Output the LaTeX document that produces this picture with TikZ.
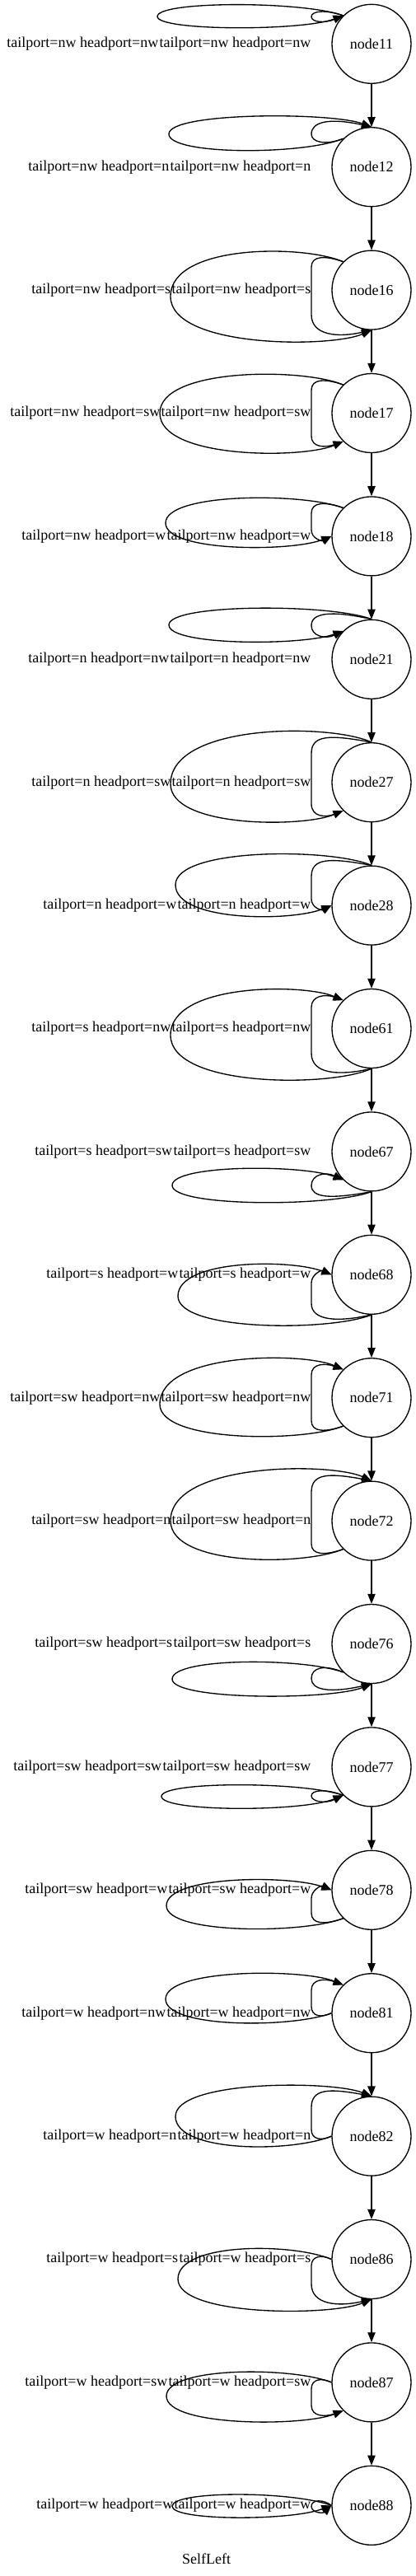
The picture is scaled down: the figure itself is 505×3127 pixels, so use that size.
\documentclass[tikz,border=0pt]{standalone}
\usepackage{fontspec}
\setmainfont{Liberation Serif}
\usetikzlibrary{arrows.meta}

\tikzset{every picture/.style={line width=1pt}}
\tikzset{
	state/.style={circle, draw, minimum size=72pt, inner sep=0pt, font=\fontsize{13.5}{16}\selectfont},
	lbl/.style={inner sep=0pt, anchor=east, font=\fontsize{13.5}{16}\selectfont},
	edge/.style={-{Triangle[length=9pt,width=7pt]}},
	selfloop/.style={-{Triangle[length=9pt,width=7pt]}}}

\begin{document}
\begin{tikzpicture}[x=0.75pt,y=0.75pt,yscale=-1,xscale=1]
		\useasboundingbox (0,0) rectangle (505,3127);

		%Shape: Circle
		\node[state] (n11) at (451,53.3) {node11};
		\node[state] (n12) at (451,202.7) {node12};
		\node[state] (n16) at (451,352.1) {node16};
		\node[state] (n17) at (451,501.5) {node17};
		\node[state] (n18) at (451,650.9) {node18};
		\node[state] (n21) at (451,800.3) {node21};
		\node[state] (n27) at (451,949.7) {node27};
		\node[state] (n28) at (451,1099.1) {node28};
		\node[state] (n61) at (451,1248.5) {node61};
		\node[state] (n67) at (451,1397.9) {node67};
		\node[state] (n68) at (451,1547.3) {node68};
		\node[state] (n71) at (451,1696.7) {node71};
		\node[state] (n72) at (451,1846.1) {node72};
		\node[state] (n76) at (451,1995.5) {node76};
		\node[state] (n77) at (451,2144.9) {node77};
		\node[state] (n78) at (451,2294.3) {node78};
		\node[state] (n81) at (451,2443.7) {node81};
		\node[state] (n82) at (451,2593.1) {node82};
		\node[state] (n86) at (451,2742.5) {node86};
		\node[state] (n87) at (451,2891.9) {node87};
		\node[state] (n88) at (451,3041.3) {node88};

		%Straight Lines
		\draw[edge] (n11) -- (n12);
		\draw[edge] (n12) -- (n16);
		\draw[edge] (n16) -- (n17);
		\draw[edge] (n17) -- (n18);
		\draw[edge] (n18) -- (n21);
		\draw[edge] (n21) -- (n27);
		\draw[edge] (n27) -- (n28);
		\draw[edge] (n28) -- (n61);
		\draw[edge] (n61) -- (n67);
		\draw[edge] (n67) -- (n68);
		\draw[edge] (n68) -- (n71);
		\draw[edge] (n71) -- (n72);
		\draw[edge] (n72) -- (n76);
		\draw[edge] (n76) -- (n77);
		\draw[edge] (n77) -- (n78);
		\draw[edge] (n78) -- (n81);
		\draw[edge] (n81) -- (n82);
		\draw[edge] (n82) -- (n86);
		\draw[edge] (n86) -- (n87);
		\draw[edge] (n87) -- (n88);

		%Curve Lines: tailport=nw
		\draw[selfloop] (n11.north west) .. controls (367,1.0) and (191,1.0) .. (191,20.0) .. controls (191,37.8) and (367,37.8) .. (n11.north west);
		\draw[selfloop] (n11.north west) .. controls (395,11.3) and (378,13.3) .. (378,20.3) .. controls (378,27.3) and (395,28.3) .. (n11.north west);
		\draw[selfloop] (n12.north west) .. controls (367,188.4) and (205,188.4) .. (205,162.7) .. controls (205,136.0) and (401,136.0) .. (n12.north);
		\draw[selfloop] (n12.north west) .. controls (395,176.7) and (378,172.7) .. (378,162.7) .. controls (378,147.7) and (400,142.7) .. (n12.north);
		\draw[selfloop] (n16.north west) .. controls (367,296.5) and (207,296.5) .. (207,359.8) .. controls (207,422.6) and (401,422.6) .. (n16.south);
		\draw[selfloop] (n16.north west) .. controls (395,310.1) and (378,310.1) .. (378,324.1) -- (378,382.1) .. controls (378,407.1) and (410,410.1) .. (n16.south);
		\draw[selfloop] (n17.north west) .. controls (367,446.2) and (194,446.2) .. (194,501.5) .. controls (194,557.2) and (367,557.2) .. (n17.south west);
		\draw[selfloop] (n17.north west) .. controls (395,459.5) and (378,459.5) .. (378,473.5) -- (378,529.5) .. controls (378,543.5) and (395,543.5) .. (n17.south west);
		\draw[selfloop] (n18.north west) .. controls (367,597.9) and (201,597.9) .. (201,634.9) .. controls (201,670.1) and (353,670.1) .. (n18.west);
		\draw[selfloop] (n18.north west) .. controls (395,608.9) and (378,608.9) .. (378,622.9) -- (378,642.9) .. controls (378,654.9) and (392,656.9) .. (n18.west);

		%Curve Lines: tailport=n
		\draw[selfloop] (n21.north) .. controls (401,732.6) and (205,732.6) .. (205,758.6) .. controls (205,784.0) and (367,784.0) .. (n21.north west);
		\draw[selfloop] (n21.north) .. controls (400,740.3) and (378,744.3) .. (378,759.3) .. controls (378,772.3) and (395,776.3) .. (n21.north west);
		\draw[selfloop] (n27.north) .. controls (401,877.8) and (207,877.8) .. (207,951.7) .. controls (207,1004.9) and (367,1004.9) .. (n27.south west);
		\draw[selfloop] (n27.north) .. controls (400,891.7) and (378,891.7) .. (378,914.7) -- (378,975.7) .. controls (378,991.7) and (395,992.7) .. (n27.south west);
		\draw[selfloop] (n28.north) .. controls (401,1029.0) and (213,1029.0) .. (213,1074.1) .. controls (213,1118.9) and (353,1118.9) .. (n28.west);
		\draw[selfloop] (n28.north) .. controls (400,1041.1) and (378,1041.1) .. (378,1064.1) -- (378,1091.1) .. controls (378,1103.1) and (392,1105.1) .. (n28.west);

		%Curve Lines: tailport=s
		\draw[selfloop] (n61.south) .. controls (401,1320.2) and (207,1320.2) .. (207,1256.5) .. controls (207,1193.5) and (367,1193.5) .. (n61.north west);
		\draw[selfloop] (n61.south) .. controls (410,1306.5) and (378,1303.5) .. (378,1278.5) -- (378,1222.5) .. controls (378,1208.5) and (395,1206.5) .. (n61.north west);
		\draw[selfloop] (n67.south) .. controls (401,1465.3) and (209,1465.3) .. (209,1438.9) .. controls (209,1413.4) and (367,1413.4) .. (n67.south west);
		\draw[selfloop] (n67.south) .. controls (400,1455.9) and (378,1453.9) .. (378,1438.9) .. controls (378,1425.9) and (395,1421.9) .. (n67.south west);
		\draw[selfloop] (n68.south) .. controls (401,1616.3) and (216,1616.3) .. (216,1573.3) .. controls (216,1528.3) and (353,1528.3) .. (n68.west);
		\draw[selfloop] (n68.south) .. controls (410,1605.3) and (378,1603.3) .. (378,1582.3) -- (378,1557.3) .. controls (378,1547.3) and (390,1541.3) .. (n68.west);

		%Curve Lines: tailport=sw
		\draw[selfloop] (n71.south west) .. controls (367,1751.0) and (194,1751.0) .. (194,1704.7) .. controls (194,1641.0) and (367,1641.0) .. (n71.north west);
		\draw[selfloop] (n71.south west) .. controls (395,1738.7) and (378,1738.7) .. (378,1724.7) -- (378,1668.7) .. controls (378,1654.7) and (395,1654.7) .. (n71.north west);
		\draw[selfloop] (n72.south west) .. controls (367,1901.2) and (207,1901.2) .. (207,1846.1) .. controls (207,1774.9) and (401,1774.9) .. (n72.north);
		\draw[selfloop] (n72.south west) .. controls (395,1888.1) and (378,1888.1) .. (378,1874.1) -- (378,1811.1) .. controls (378,1788.1) and (400,1788.1) .. (n72.north);
		\draw[selfloop] (n76.south west) .. controls (367,2012.0) and (209,2012.0) .. (209,2038.2) .. controls (209,2064.0) and (401,2064.0) .. (n76.south);
		\draw[selfloop] (n76.south west) .. controls (395,2020.5) and (378,2023.5) .. (378,2037.5) .. controls (378,2051.5) and (400,2055.5) .. (n76.south);
		\draw[selfloop] (n77.south west) .. controls (367,2162.2) and (196,2162.2) .. (196,2180.6) .. controls (196,2199.6) and (367,2199.6) .. (n77.south west);
		\draw[selfloop] (n77.south west) .. controls (395,2170.9) and (378,2172.9) .. (378,2179.9) .. controls (378,2186.9) and (395,2189.9) .. (n77.south west);
		\draw[selfloop] (n78.south west) .. controls (367,2347.8) and (202,2347.8) .. (202,2313.3) .. controls (202,2276.1) and (353,2276.1) .. (n78.west);
		\draw[selfloop] (n78.south west) .. controls (395,2336.3) and (378,2336.3) .. (378,2322.3) -- (378,2304.3) .. controls (378,2294.3) and (390,2288.3) .. (n78.west);

		%Curve Lines: tailport=w
		\draw[selfloop] (n81.west) .. controls (353,2462.1) and (201,2462.1) .. (201,2426.7) .. controls (201,2389.5) and (367,2389.5) .. (n81.north west);
		\draw[selfloop] (n81.west) .. controls (390,2449.7) and (378,2447.7) .. (378,2435.7) -- (378,2415.7) .. controls (378,2401.7) and (395,2401.7) .. (n81.north west);
		\draw[selfloop] (n82.west) .. controls (353,2613.1) and (213,2613.1) .. (213,2569.1) .. controls (213,2525.1) and (401,2525.1) .. (n82.north);
		\draw[selfloop] (n82.west) .. controls (390,2599.1) and (378,2597.1) .. (378,2585.1) -- (378,2558.1) .. controls (378,2535.1) and (400,2535.1) .. (n82.north);
		\draw[selfloop] (n86.west) .. controls (353,2722.1) and (216,2722.1) .. (216,2766.5) .. controls (216,2811.8) and (401,2811.8) .. (n86.south);
		\draw[selfloop] (n86.west) .. controls (390,2736.5) and (378,2738.5) .. (378,2750.5) -- (378,2772.5) .. controls (378,2797.5) and (410,2800.5) .. (n86.south);
		\draw[selfloop] (n87.west) .. controls (353,2872.7) and (202,2872.7) .. (202,2908.6) .. controls (202,2945.7) and (367,2945.7) .. (n87.south west);
		\draw[selfloop] (n87.west) .. controls (390,2885.9) and (378,2887.9) .. (378,2899.9) -- (378,2919.9) .. controls (378,2933.9) and (395,2933.9) .. (n87.south west);
		\draw[selfloop] (n88.west) .. controls (353,3023.4) and (209,3023.4) .. (209,3042.3) .. controls (209,3060.2) and (353,3060.2) .. (n88.west);
		\draw[selfloop] (n88.west) .. controls (392,3033.3) and (378,3034.3) .. (378,3042.3) .. controls (378,3050.3) and (392,3051.3) .. (n88.west);

		% Text Node
		\node[lbl] (l11b) at (378,53.3) {tailport=nw headport=nw};
		\node[lbl] (l11a) at (l11b.west) {tailport=nw headport=nw};
		\node[lbl] (l12b) at (378,202.7) {tailport=nw headport=n};
		\node[lbl] (l12a) at (l12b.west) {tailport=nw headport=n};
		\node[lbl] (l16b) at (378,352.1) {tailport=nw headport=s};
		\node[lbl] (l16a) at (l16b.west) {tailport=nw headport=s};
		\node[lbl] (l17b) at (378,501.5) {tailport=nw headport=sw};
		\node[lbl] (l17a) at (l17b.west) {tailport=nw headport=sw};
		\node[lbl] (l18b) at (378,650.9) {tailport=nw headport=w};
		\node[lbl] (l18a) at (l18b.west) {tailport=nw headport=w};
		\node[lbl] (l21b) at (378,800.3) {tailport=n headport=nw};
		\node[lbl] (l21a) at (l21b.west) {tailport=n headport=nw};
		\node[lbl] (l27b) at (378,949.7) {tailport=n headport=sw};
		\node[lbl] (l27a) at (l27b.west) {tailport=n headport=sw};
		\node[lbl] (l28b) at (378,1099.1) {tailport=n headport=w};
		\node[lbl] (l28a) at (l28b.west) {tailport=n headport=w};
		\node[lbl] (l61b) at (378,1248.5) {tailport=s headport=nw};
		\node[lbl] (l61a) at (l61b.west) {tailport=s headport=nw};
		\node[lbl] (l67b) at (378,1397.9) {tailport=s headport=sw};
		\node[lbl] (l67a) at (l67b.west) {tailport=s headport=sw};
		\node[lbl] (l68b) at (378,1547.3) {tailport=s headport=w};
		\node[lbl] (l68a) at (l68b.west) {tailport=s headport=w};
		\node[lbl] (l71b) at (378,1696.7) {tailport=sw headport=nw};
		\node[lbl] (l71a) at (l71b.west) {tailport=sw headport=nw};
		\node[lbl] (l72b) at (378,1846.1) {tailport=sw headport=n};
		\node[lbl] (l72a) at (l72b.west) {tailport=sw headport=n};
		\node[lbl] (l76b) at (378,1995.5) {tailport=sw headport=s};
		\node[lbl] (l76a) at (l76b.west) {tailport=sw headport=s};
		\node[lbl] (l77b) at (378,2144.9) {tailport=sw headport=sw};
		\node[lbl] (l77a) at (l77b.west) {tailport=sw headport=sw};
		\node[lbl] (l78b) at (378,2294.3) {tailport=sw headport=w};
		\node[lbl] (l78a) at (l78b.west) {tailport=sw headport=w};
		\node[lbl] (l81b) at (378,2443.7) {tailport=w headport=nw};
		\node[lbl] (l81a) at (l81b.west) {tailport=w headport=nw};
		\node[lbl] (l82b) at (378,2593.1) {tailport=w headport=n};
		\node[lbl] (l82a) at (l82b.west) {tailport=w headport=n};
		\node[lbl] (l86b) at (378,2742.5) {tailport=w headport=s};
		\node[lbl] (l86a) at (l86b.west) {tailport=w headport=s};
		\node[lbl] (l87b) at (378,2891.9) {tailport=w headport=sw};
		\node[lbl] (l87a) at (l87b.west) {tailport=w headport=sw};
		\node[lbl] (l88b) at (378,3041.3) {tailport=w headport=w};
		\node[lbl] (l88a) at (l88b.west) {tailport=w headport=w};

		\node[font=\fontsize{13.5}{16}\selectfont] (title) at (250.7,3106) {SelfLeft};

\end{tikzpicture}
\end{document}
